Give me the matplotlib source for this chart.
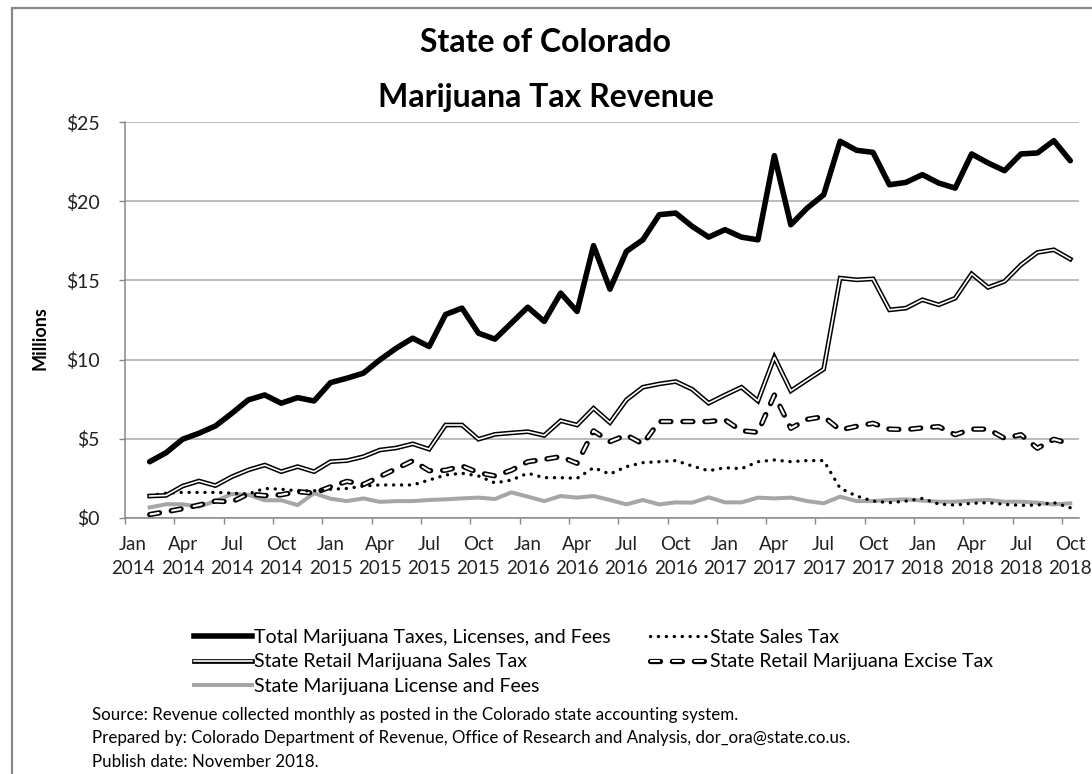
import numpy as np
import matplotlib.pyplot as plt
from matplotlib.patches import Rectangle

plt.rcParams['font.family'] = ['Lato', 'DejaVu Sans']
plt.rcParams['lines.scale_dashes'] = False

nan = np.nan
mon_names = ['Jan', 'Feb', 'Mar', 'Apr', 'May', 'Jun', 'Jul', 'Aug', 'Sep', 'Oct', 'Nov', 'Dec']
months = [(m, y) for y in range(2014, 2019) for m in mon_names][:58]  # Jan 2014 .. Oct 2018

# $ millions, Jan 2014 has no collections
total = [nan, 3.54, 4.11, 4.96, 5.34, 5.80, 6.60, 7.45, 7.76, 7.24, 7.59, 7.38,
         8.54, 8.82, 9.14, 9.98, 10.72, 11.35, 10.82, 12.85, 13.25, 11.67, 11.29, 12.30,
         13.31, 12.41, 14.2, 13.04, 17.2, 14.45, 16.84, 17.57, 19.16, 19.26, 18.42, 17.74,
         18.21, 17.74, 17.57, 22.89, 18.52, 19.58, 20.42, 23.80, 23.23, 23.10, 21.05, 21.2,
         21.69, 21.16, 20.84, 23.0, 22.43, 21.94, 23.0, 23.06, 23.84, 22.57]
retail_sales = [nan, 1.37, 1.41, 2.0, 2.32, 2.03, 2.59, 3.02, 3.33, 2.91, 3.23, 2.91,
                3.54, 3.61, 3.86, 4.28, 4.41, 4.67, 4.33, 5.86, 5.86, 4.96, 5.27, 5.36,
                5.44, 5.2, 6.13, 5.86, 6.92, 6.01, 7.45, 8.25, 8.46, 8.61, 8.12, 7.24,
                7.76, 8.25, 7.38, 10.15, 8.02, 8.71, 9.39, 15.15, 15.04, 15.1, 13.14, 13.25,
                13.78, 13.46, 13.88, 15.42, 14.56, 14.94, 15.99, 16.77, 16.94, 16.35]
sales = [nan, 1.4, 1.55, 1.6, 1.6, 1.6, 1.55, 1.5, 1.85, 1.8, 1.7, 1.7,
         1.8, 1.85, 2.0, 2.07, 2.07, 2.07, 2.38, 2.7, 2.81, 2.64, 2.2, 2.38,
         2.81, 2.53, 2.53, 2.49, 3.16, 2.76, 3.23, 3.48, 3.54, 3.61, 3.27, 2.97,
         3.16, 3.1, 3.54, 3.65, 3.54, 3.61, 3.61, 1.86, 1.37, 1.05, 0.95, 1.05,
         1.22, 0.86, 0.8, 0.91, 0.95, 0.84, 0.78, 0.8, 0.95, 0.63]
excise = [nan, 0.2, 0.38, 0.57, 0.8, 1.05, 1.0, 1.5, 1.4, 1.45, 1.65, 1.55,
          1.95, 2.3, 2.1, 2.6, 3.1, 3.6, 2.97, 3.0, 3.27, 2.85, 2.64, 3.0,
          3.54, 3.69, 3.86, 3.44, 5.49, 4.81, 5.23, 4.66, 6.08, 6.08, 6.08, 6.08,
          6.18, 5.5, 5.4, 7.76, 5.65, 6.22, 6.39, 5.55, 5.78, 5.97, 5.6, 5.57,
          5.68, 5.76, 5.25, 5.6, 5.6, 5.02, 5.25, 4.39, 4.96, 4.67]
license_fees = [nan, 0.65, 0.85, 0.85, 0.7, 1.05, 1.5, 1.45, 1.1, 1.1, 0.8, 1.55,
                1.2, 1.05, 1.22, 1.0, 1.05, 1.05, 1.12, 1.16, 1.22, 1.27, 1.18, 1.6,
                1.33, 1.05, 1.37, 1.27, 1.37, 1.12, 0.84, 1.12, 0.84, 0.97, 0.95, 1.29,
                0.97, 0.97, 1.27, 1.22, 1.27, 1.05, 0.91, 1.33, 1.05, 1.05, 1.12, 1.16,
                1.08, 1.01, 1.01, 1.08, 1.12, 1.01, 1.01, 0.95, 0.84, 0.91]

W, H = 1092, 774
fig = plt.figure(figsize=(W / 100, H / 100), dpi=100)
ax = fig.add_axes([125 / W, 1 - 517.7 / H, (1078.5 - 125) / W, (517.7 - 122.3) / H])

x = np.arange(len(months))
grey = '#a6a6a6'

ax.plot(x, license_fees, color=grey, lw=2.9, solid_joinstyle='round')
# excise: outlined dashes
ax.plot(x, excise, color='black', lw=3.8, linestyle=(0, (7.2, 8.6)),
        dash_capstyle='round', dash_joinstyle='round')
ax.plot(x, excise, color='white', lw=1.5, linestyle=(15.2, (6.0, 9.8)),
        dash_capstyle='round', dash_joinstyle='round')
ax.plot(x, sales, color='black', lw=2.4, linestyle=(0, (0.1, 5.6)),
        dash_capstyle='round')
# retail sales tax: double line
ax.plot(x, retail_sales, color='black', lw=3.4, solid_joinstyle='miter')
ax.plot(x, retail_sales, color='white', lw=1.2, solid_joinstyle='miter')
ax.plot(x, total, color='black', lw=4.0, solid_joinstyle='round', solid_capstyle='round')

ax.set_xlim(-0.5, len(months) - 0.5)
ax.set_ylim(0, 25)
ax.set_yticks(range(0, 26, 5))
ax.set_yticklabels([f'${v}' for v in range(0, 26, 5)])
ax.grid(axis='y', color='#b0b0b0', lw=1.2)
ax.set_axisbelow(True)

ax.set_xticks(np.arange(-0.5, len(months) - 1, 3))
ax.set_xticklabels([])
ax.set_xticks(x[::3], minor=True)
ax.set_xticklabels([f'{m}\n{y}' for m, y in months[::3]], minor=True,
                   linespacing=1.55)
ax.tick_params(axis='x', which='major', length=4, color='#888888', width=1)
ax.tick_params(axis='x', which='minor', length=0, pad=13, labelsize=13.5, colors='#222222')
ax.tick_params(axis='y', length=4, color='#888888', width=1, pad=14, labelsize=14,
               labelcolor='#222222')

for s in ('top', 'right'):
    ax.spines[s].set_visible(False)
for s in ('left', 'bottom'):
    ax.spines[s].set_color('#888888')
    ax.spines[s].set_linewidth(1.1)

fig.text(40 / W, 1 - 338 / H, 'Millions', rotation=90, ha='center', va='center',
         fontsize=13, weight='bold')
fig.text(546 / W, 1 - 43 / H, 'State of Colorado', ha='center', va='center',
         fontsize=23, weight='bold')
fig.text(546 / W, 1 - 97 / H, 'Marijuana Tax Revenue', ha='center', va='center',
         fontsize=23, weight='bold')

# legend handles
h_total, = ax.plot([], [], color='black', lw=4.0)
h_ret_o, = ax.plot([], [], color='black', lw=3.4)
h_ret_i, = ax.plot([], [], color='white', lw=1.2)
h_lic, = ax.plot([], [], color=grey, lw=2.9)
h_sales, = ax.plot([], [], color='black', lw=2.4, linestyle=(0, (0.1, 5.6)),
                   dash_capstyle='round')
h_exc_o, = ax.plot([], [], color='black', lw=3.8, linestyle=(0, (7.2, 8.6)),
                   dash_capstyle='round')
h_exc_i, = ax.plot([], [], color='white', lw=1.5, linestyle=(15.2, (6.0, 9.8)),
                   dash_capstyle='round')

handles = [h_total, (h_ret_o, h_ret_i), h_lic, h_sales, (h_exc_o, h_exc_i)]
labels = ['Total Marijuana Taxes, Licenses, and Fees', 'State Retail Marijuana Sales Tax',
          'State Marijuana License and Fees', 'State Sales Tax',
          'State Retail Marijuana Excise Tax']
fig.legend(handles, labels, ncol=2, loc='upper left', bbox_to_anchor=(194 / W, 1 - 629 / H),
           frameon=False, fontsize=14, handlelength=3.0, handletextpad=0.1,
           columnspacing=2.0, labelspacing=0.38, borderpad=0, borderaxespad=0)

notes = ['Source: Revenue collected monthly as posted in the Colorado state accounting system.',
         'Prepared by: Colorado Department of Revenue, Office of Research and Analysis, dor_ora@state.co.us.',
         'Publish date: November 2018.']
for k, line in enumerate(notes):
    fig.text(92 / W, 1 - (715 + 23.5 * k) / H, line, ha='left', va='center', fontsize=12.2)

fig.patches.append(Rectangle((12 / W, -0.05), 1.0, 1.05 - 8 / H, transform=fig.transFigure,
                             fill=False, edgecolor='#888888', lw=1.6))

fig.savefig('out.png', dpi=100)
